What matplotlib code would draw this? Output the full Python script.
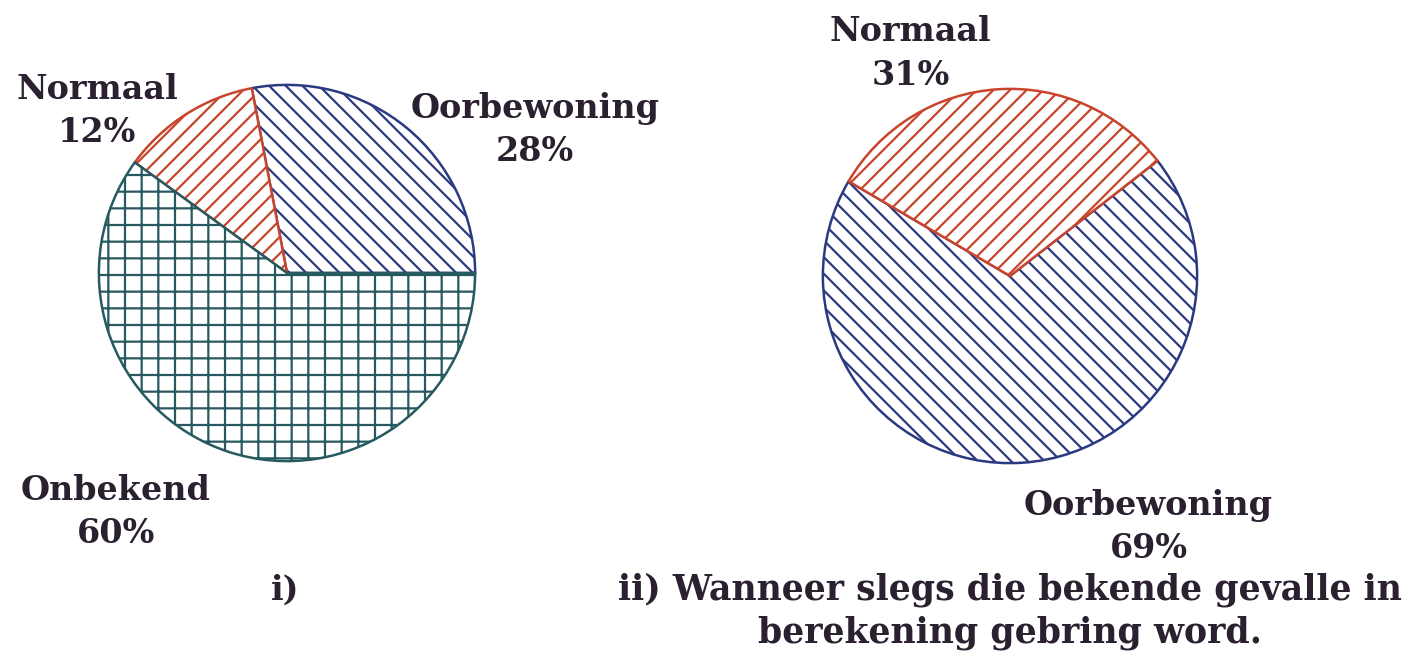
import matplotlib
matplotlib.use("Agg")
import matplotlib.pyplot as plt

# i) all cases
labels_i = ["Oorbewoning", "Normaal", "Onbekend"]
values_i = [28, 12, 60]
# ii) only known cases
labels_ii = ["Oorbewoning", "Normaal"]
values_ii = [69, 31]

caption_i = "i)"
caption_ii = "ii) Wanneer slegs die bekende gevalle in\nberekening gebring word."

blue = "#2b3a80"
red = "#c8452c"
teal = "#265a60"
ink = "#2a2030"

plt.rcParams["hatch.linewidth"] = 1.6
plt.rcParams["font.family"] = ["DejaVu Serif"]
fs = 24

fig = plt.figure(figsize=(14.17, 6.52), dpi=100)
W, H = 1417, 652

def pie_axes(cx, cy, r):
	return fig.add_axes([(cx - r) / W, (H - cy - r) / H, 2 * r / W, 2 * r / H])

# left pie
ax1 = pie_axes(287, 273, 190)
w1, _ = ax1.pie(values_i, startangle=0, counterclock=True,
	colors=["white"] * 3, radius=1,
	wedgeprops=dict(linewidth=1.8))
for w, c, h in zip(w1, [blue, red, teal], ["\\\\", "//", "+"]):
	w.set_edgecolor(c)
	w.set_hatch(h)
ax1.set_xlim(-1.01, 1.01)
ax1.set_ylim(-1.01, 1.01)
ax1.axis("off")

txt = dict(ha="center", va="center", fontsize=fs, fontweight="bold", color=ink,
	linespacing=1.4, clip_on=False)
ax1.text(1.32, 0.76, "%s\n%d%%" % (labels_i[0], values_i[0]), **txt)
ax1.text(-1.01, 0.86, "%s\n%d%%" % (labels_i[1], values_i[1]), **txt)
ax1.text(-0.91, -1.27, "%s\n%d%%" % (labels_i[2], values_i[2]), **txt)

# right pie
ax2 = pie_axes(1010, 276, 189)
w2, _ = ax2.pie(values_ii, startangle=149.6, counterclock=True,
	colors=["white"] * 2, radius=1,
	wedgeprops=dict(linewidth=1.8))
for w, c, h in zip(w2, [blue, red], ["\\\\", "//"]):
	w.set_edgecolor(c)
	w.set_hatch(h)
ax2.set_xlim(-1.01, 1.01)
ax2.set_ylim(-1.01, 1.01)
ax2.axis("off")
ax2.text(0.74, -1.34, "%s\n%d%%" % (labels_ii[0], values_ii[0]), **txt)
ax2.text(-0.53, 1.19, "%s\n%d%%" % (labels_ii[1], values_ii[1]), **txt)

fig.text(285 / W, 1 - 590 / H, caption_i, ha="center", va="center",
	fontsize=fs, fontweight="bold", color=ink)
fig.text(1010 / W, 1 - 611 / H, caption_ii, ha="center", va="center",
	fontsize=25, fontweight="bold", color=ink, linespacing=1.3)

fig.savefig("out.png", dpi=100)
